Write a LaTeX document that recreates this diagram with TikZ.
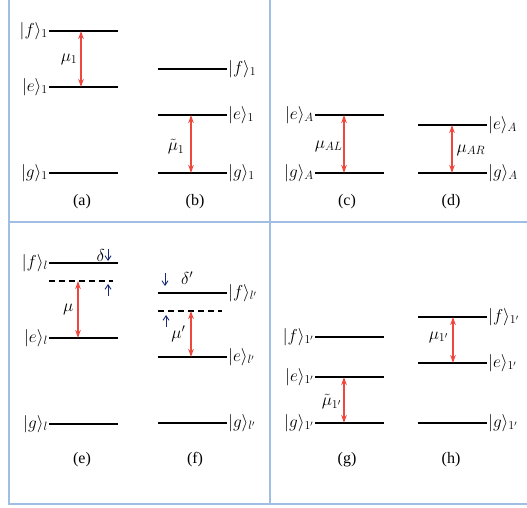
\documentclass[tikz,border=0pt]{standalone}
\usepackage{amsmath}
\usepackage{fontspec}
\setmainfont{Liberation Serif}
\usepackage{tikz}
\usetikzlibrary{positioning, arrows.meta, calc}
\definecolor{gridblue}{RGB}{160, 190, 228}
\definecolor{transred}{RGB}{238, 72, 62}
\definecolor{detnavy}{RGB}{25, 40, 115}
\tikzset{
  gridline/.style={draw=gridblue, line width=1.1pt},
  level/.style={draw=black, line width=1.3pt},
  virtual/.style={draw=black, line width=1.3pt, dash pattern=on 6pt off 4pt},
  trans/.style={draw=transred, line width=1.3pt, {Stealth[length=8pt,width=5.5pt]}-{Stealth[length=8pt,width=5.5pt]}},
  detarrow/.style={draw=detnavy, line width=0.9pt, -{Straight Barb[length=4.5pt,width=6pt]}},
  statelbl/.style={inner sep=1pt, font=\fontsize{17}{20}\selectfont},
  coupling/.style={inner sep=1pt, font=\fontsize{18}{21}\selectfont},
  caption/.style={font=\fontsize{16}{19}\selectfont}
}

\begin{document}
\begin{tikzpicture}[x=1pt, y=-1pt]
        \useasboundingbox (0,0) rectangle (527,508);

        % Cuadricula de paneles
        \draw [gridline] (9,0) -- (9,504) -- (527,504);
        \draw [gridline] (270,0) -- (270,504);
        \draw [gridline] (9,222) -- (527,222);

        % Niveles de energia: nombre/x/y/anchor/extremo/etiqueta
        \foreach \nm/\xa/\yy/\an/\at/\lbl in {
            af/49/31/east/l/{|f\rangle_1}, ae/49/87/east/l/{|e\rangle_1}, ag/49/173/east/l/{|g\rangle_1},
            bf/158/69/west/r/{|f\rangle_1}, be/158/115/west/r/{|e\rangle_1}, bg/158/173/west/r/{|g\rangle_1},
            ce/315/115/east/l/{|e\rangle_A}, cg/315/173/east/l/{|g\rangle_A},
            de/418/125/west/r/{|e\rangle_A}, dg/418/173/west/r/{|g\rangle_A},
            ef/49/263/east/l/{|f\rangle_l}, ee/49/338/east/l/{|e\rangle_l}, eg/49/424/east/l/{|g\rangle_l},
            ff/158/293/west/r/{|f\rangle_{l'}}, fe/158/357/west/r/{|e\rangle_{l'}}, fg/158/423/west/r/{|g\rangle_{l'}},
            gf/315/337/east/l/{|f\rangle_{1'}}, ge/315/377/east/l/{|e\rangle_{1'}}, gg/315/423/east/l/{|g\rangle_{1'}},
            hf/418/317/west/r/{|f\rangle_{1'}}, he/418/363/west/r/{|e\rangle_{1'}}, hg/418/423/west/r/{|g\rangle_{1'}}} {
            \coordinate (\nm l) at (\xa,\yy);
            \coordinate (\nm r) at (\xa+69,\yy);
            \draw [level] (\nm l) -- (\nm r);
            \node [statelbl, anchor=\an] (\nm t) at (\nm\at) {$\lbl$};
        }

        % Niveles virtuales (desintonizados)
        \coordinate (evl) at (49,281);  \coordinate (evr) at (113,281);
        \coordinate (fvl) at (158,311); \coordinate (fvr) at (222,311);
        \draw [virtual] (evl) -- (evr);
        \draw [virtual] (fvl) -- (fvr);

        % Transiciones
        \coordinate (a1) at (81,31);   \coordinate (a2) at (81,87);
        \coordinate (b1) at (191,115); \coordinate (b2) at (191,173);
        \coordinate (c1) at (344,115); \coordinate (c2) at (344,173);
        \coordinate (d1) at (452,125); \coordinate (d2) at (452,173);
        \coordinate (e1) at (78,281);  \coordinate (e2) at (78,338);
        \coordinate (f1) at (191,311); \coordinate (f2) at (191,357);
        \coordinate (g1) at (344,377); \coordinate (g2) at (344,423);
        \coordinate (h1) at (453,317); \coordinate (h2) at (453,363);
        \draw [trans] (a1) -- (a2) node [coupling, midway, left=2pt] (mua) {$\mu_1$};
        \draw [trans] (b1) -- (b2) node [coupling, midway, left=5pt, yshift=-3pt] (mub) {$\tilde{\mu}_1$};
        \draw [trans] (c1) -- (c2) node [coupling, midway, left=0pt, yshift=-2pt] (muc) {$\mu_{AL}$};
        \draw [trans] (d1) -- (d2) node [coupling, midway, right=3pt, yshift=-1pt] (mud) {$\mu_{AR}$};
        \draw [trans] (e1) -- (e2) node [coupling, midway, left=3pt] (mue) {$\mu$};
        \draw [trans] (f1) -- (f2) node [coupling, midway, left=4pt] (muf) {$\mu'$};
        \draw [trans] (g1) -- (g2) node [coupling, midway, left=1pt, yshift=-2pt] (mug) {$\tilde{\mu}_{1'}$};
        \draw [trans] (h1) -- (h2) node [coupling, midway, left=3pt, yshift=3pt] (muh) {$\mu_{1'}$};

        % Desintonias
        \coordinate (eu1) at (108,249); \coordinate (eu2) at (108,261);
        \coordinate (ed1) at (108,296); \coordinate (ed2) at (108,284);
        \coordinate (fu1) at (165,273); \coordinate (fu2) at (165,286);
        \coordinate (fd1) at (166,327); \coordinate (fd2) at (166,315);
        \draw [detarrow] (eu1) -- (eu2);
        \draw [detarrow] (ed1) -- (ed2);
        \draw [detarrow] (fu1) -- (fu2);
        \draw [detarrow] (fd1) -- (fd2);
        \node [coupling, left=2pt of eu1, yshift=-6pt] (dle) {$\delta$};
        \node [coupling, right=15pt of fu1, yshift=-5pt] (dlf) {$\delta'$};

        % Rotulos de los paneles
        \node [caption] (cpa) at (82,202) {(a)};
        \node [caption] (cpb) at (195,202) {(b)};
        \node [caption] (cpc) at (347,202) {(c)};
        \node [caption] (cpd) at (451,202) {(d)};
        \node [caption] (cpe) at (82,460) {(e)};
        \node [caption] (cpf) at (195,460) {(f)};
        \node [caption] (cpg) at (347,460) {(g)};
        \node [caption] (cph) at (451,460) {(h)};
    \end{tikzpicture}
\end{document}
